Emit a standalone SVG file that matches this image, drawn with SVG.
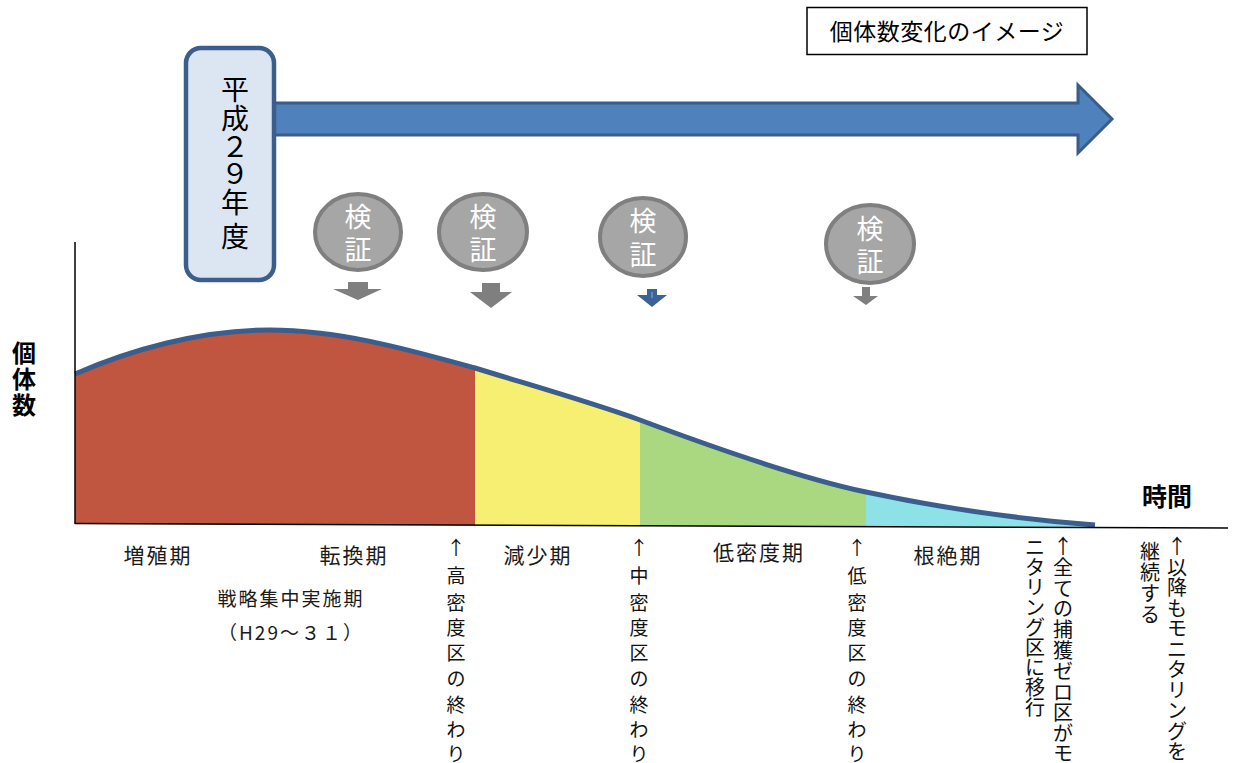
<svg xmlns="http://www.w3.org/2000/svg" width="1248" height="763" viewBox="0 0 1248 763">
<style>
text{font-family:"Noto Sans CJK JP","Noto Sans",sans-serif;}
.lbl{font-size:21px;fill:#1a1a1a;letter-spacing:2px;text-anchor:middle;}
.sm{font-size:19px;fill:#1a1a1a;letter-spacing:2px;text-anchor:middle;}
.vt{font-size:19px;fill:#111;text-anchor:middle;}
.vt2{font-size:20px;fill:#111;text-anchor:middle;}
.kb{fill:#A6A6A6;stroke:#7F7F7F;stroke-width:4;}
.kt{font-size:27px;fill:#fff;text-anchor:middle;}
.ga{fill:#7F7F7F;}
</style>
<defs>
<clipPath id="area">
<path d="M75,374 C130,350 200,330 270,330 C340,330 410,350 475,368 C530,385 590,402 640,420 C720,450 800,478 866,492 C950,510 1030,520 1095,525 L1095,527 L75,524 Z"/>
</clipPath>
</defs>
<rect width="1248" height="763" fill="#fff"/>

<g id="chart">
<g clip-path="url(#area)">
<rect x="70" y="300" width="405" height="230" fill="#C0563F"/>
<rect x="475" y="300" width="165" height="230" fill="#F7EF72"/>
<rect x="640" y="300" width="226" height="230" fill="#A9D880"/>
<rect x="866" y="300" width="240" height="230" fill="#8DE2E8"/>
</g>
<path d="M75,374 C130,350 200,330 270,330 C340,330 410,350 475,368 C530,385 590,402 640,420 C720,450 800,478 866,492 C950,510 1030,520 1095,525" fill="none" stroke="#3B5E8C" stroke-width="5"/>
<line x1="75" y1="242" x2="75" y2="524" stroke="#000" stroke-width="1.5"/>
<line x1="75" y1="523.5" x2="1228" y2="528" stroke="#000" stroke-width="1.5"/>
</g>

<g id="timeline-arrow">
<polygon points="268,103 1078,103 1078,85 1112,119 1078,153 1078,135 268,135" fill="#4F81BD" stroke="#385D8A" stroke-width="3" stroke-linejoin="miter"/>
</g>

<g id="year-box">
<rect x="186" y="48" width="88" height="232" rx="15" ry="15" fill="#DCE6F2" stroke="#3B5E8C" stroke-width="4.5"/>
<text x="235 235 235 235 235 235" y="100 129 157 184 213 247" style="font-size:28px;fill:#000;text-anchor:middle;">平成２９年度</text>
</g>

<g id="title-box">
<rect x="807" y="7.5" width="280" height="47" fill="#fff" stroke="#000" stroke-width="1.5"/>
<text x="947" y="40" style="font-size:23px;fill:#000;text-anchor:middle;letter-spacing:0.5px;">個体数変化のイメージ</text>
</g>

<g id="kensho1">
<ellipse class="kb" cx="358" cy="232" rx="43" ry="38"/>
<text class="kt" x="358 358" y="227 260">検証</text>
<polygon class="ga" points="348,282 368,282 368,289 382,289 358,300 333,289 348,289"/>
</g>
<g id="kensho2">
<ellipse class="kb" cx="483" cy="232" rx="44" ry="38"/>
<text class="kt" x="483 483" y="227 260">検証</text>
<polygon class="ga" points="482,283 500,283 500,292 512,292 491,308 470,292 482,292"/>
</g>
<g id="kensho3">
<ellipse class="kb" cx="643" cy="237" rx="43" ry="39"/>
<text class="kt" x="643 643" y="231 265">検証</text>
<polygon points="647,289 657,289 657,295 667,295 652,307 637,295 647,295" fill="#3B6496"/>
<line x1="652" y1="292" x2="652" y2="298" stroke="#8FAAD0" stroke-width="1"/>
</g>
<g id="kensho4">
<ellipse class="kb" cx="870" cy="244" rx="44" ry="39"/>
<text class="kt" x="870 870" y="239 272">検証</text>
<polygon class="ga" points="862,287 870,287 870,296 878,296 866,305 853,296 862,296"/>
</g>

<g id="axis-labels">
<text x="24 24 24" y="362 388 414" style="font-size:24px;font-weight:bold;fill:#000;text-anchor:middle;">個体数</text>
<text x="1167" y="506" style="font-size:25px;font-weight:bold;fill:#000;text-anchor:middle;">時間</text>
</g>

<g id="phase-labels">
<text class="lbl" x="158" y="563">増殖期</text>
<text class="lbl" x="354" y="563">転換期</text>
<text class="sm" x="291" y="606">戦略集中実施期</text>
<text class="sm" x="291" y="640">（H29～３１）</text>
<text class="lbl" x="538" y="563">減少期</text>
<text class="lbl" x="759" y="560">低密度期</text>
<text class="lbl" x="948" y="563">根絶期</text>
</g>

<g id="boundary-labels">
<text class="vt" x="456 456 456 456 456 456 456 456 456" y="555 583 610 635 660 686 712 737 761">↑高密度区の終わり</text>
<text class="vt" x="639 639 639 639 639 639 639 639 639" y="555 583 610 635 660 686 712 737 761">↑中密度区の終わり</text>
<text class="vt" x="857 857 857 857 857 857 857 857 857" y="555 583 610 635 660 686 712 737 761">↑低密度区の終わり</text>
<text class="vt2" x="1063 1063 1063 1063 1063 1063 1063 1063 1063 1063 1063" y="554 575 596 616 637 658 679 700 720 741 761">↑全ての捕獲ゼロ区がモ</text>
<text class="vt2" x="1035 1035 1035 1035 1035 1035 1035 1035 1035" y="555 575 595 615 635 655 675 695 715">ニタリング区に移行</text>
<text class="vt2" x="1177 1177 1177 1177 1177 1177 1177 1177 1177 1177 1177" y="554 575 595 616 636 657 677 698 718 739 759">↑以降もモニタリングを</text>
<text class="vt2" x="1150 1150 1150 1150" y="559 580 601 622">継続する</text>
</g>
</svg>
